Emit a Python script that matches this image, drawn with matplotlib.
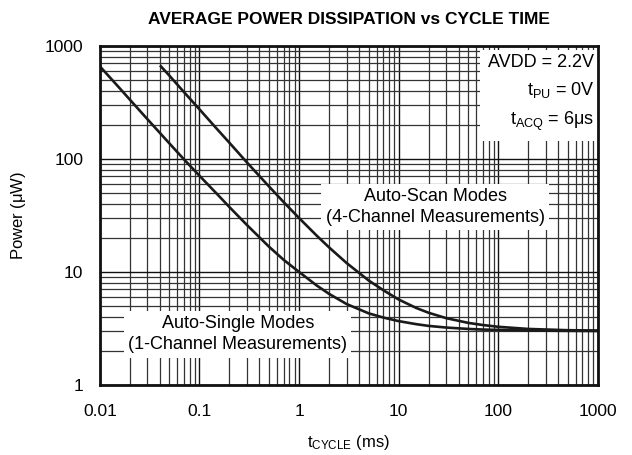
import numpy as np
import matplotlib
matplotlib.use('Agg')
import matplotlib.pyplot as plt

plt.rcParams['font.family'] = ['Liberation Sans', 'DejaVu Sans']
plt.rcParams['mathtext.fontset'] = 'custom'
plt.rcParams['mathtext.rm'] = 'Liberation Sans'
plt.rcParams['mathtext.it'] = 'Liberation Sans'

# cycle time (ms) and power (uW)
single_t = [0.01, 0.015, 0.02, 0.03, 0.05, 0.07, 0.1, 0.15, 0.2, 0.3, 0.5, 0.7, 1, 1.5, 2, 3, 5, 7,
            10, 15, 20, 30, 50, 70, 100, 200, 500, 1000]
single_p = [660, 445, 335, 225, 137, 99, 71, 49, 37.5, 26, 16.7, 12.8, 10, 7.6, 6.4, 5.2, 4.3, 3.95,
            3.67, 3.45, 3.33, 3.22, 3.13, 3.09, 3.07, 3.03, 3.01, 3.0]
scan_t = [0.041, 0.05, 0.07, 0.1, 0.15, 0.2, 0.3, 0.5, 0.7, 1, 1.5, 2, 3, 5, 7, 10, 15, 20, 30,
          50, 70, 100, 200, 500, 1000]
scan_p = [660, 545, 390, 275, 184, 139, 93, 57, 41.5, 30, 21, 16.5, 12, 8.4, 6.9, 5.7, 4.8, 4.35,
          3.9, 3.54, 3.39, 3.27, 3.13, 3.05, 3.03]

fig = plt.figure(figsize=(6.32, 4.55), dpi=100)
ax = fig.add_axes([0.158, 0.154, 0.788, 0.745])

ax.plot(single_t, single_p, color='#1a1a1a', lw=1.9, zorder=4)
ax.plot(scan_t, scan_p, color='#1a1a1a', lw=1.9, zorder=4)

ax.set_xscale('log')
ax.set_yscale('log')
ax.set_xlim(0.01, 1000)
ax.set_ylim(1, 1000)
ax.set_xticks([0.01, 0.1, 1, 10, 100, 1000])
ax.set_xticklabels(['0.01', '0.1', '1', '10', '100', '1000'])
ax.set_yticks([1, 10, 100, 1000])
ax.set_yticklabels(['1', '10', '100', '1000'])
ax.tick_params(which='both', length=0, labelsize=12.5)
ax.tick_params(axis='x', pad=14)
ax.tick_params(axis='y', pad=12)
ax.grid(which='major', color='#111111', lw=1.0, zorder=1)
ax.grid(which='minor', color='#333333', lw=0.9, zorder=1)
ax.set_axisbelow(True)
for s in ax.spines.values():
    s.set_linewidth(2)
    s.set_color('#111111')
    s.set_zorder(6)

ax.set_title('AVERAGE POWER DISSIPATION vs CYCLE TIME', fontsize=12.5, fontweight='bold', pad=16)
ax.set_xlabel(r'$\mathregular{t_{CYCLE}}$ (ms)', fontsize=12, labelpad=10)
ax.set_ylabel(r'Power ($\mathregular{\mu}$W)', fontsize=12, labelpad=12)

box = dict(facecolor='white', edgecolor='none', pad=3)
ax.text(0.993, 0.975, 'AVDD = 2.2V\n' + r'$\mathregular{t_{PU}}$ = 0V' + '\n' + r'$\mathregular{t_{ACQ}}$ = 6$\mathregular{\mu}$s',
        transform=ax.transAxes, ha='right', va='top', fontsize=13, linespacing=1.6,
        bbox=dict(facecolor='white', edgecolor='none', pad=6), zorder=5)
ax.text(0.673, 0.525, 'Auto-Scan Modes\n(4-Channel Measurements)', transform=ax.transAxes,
        ha='center', va='center', fontsize=13, linespacing=1.35, bbox=box, zorder=5)
ax.text(0.277, 0.15, 'Auto-Single Modes\n(1-Channel Measurements)', transform=ax.transAxes,
        ha='center', va='center', fontsize=13, linespacing=1.35, bbox=box, zorder=5)

fig.savefig('out.png', dpi=100)
